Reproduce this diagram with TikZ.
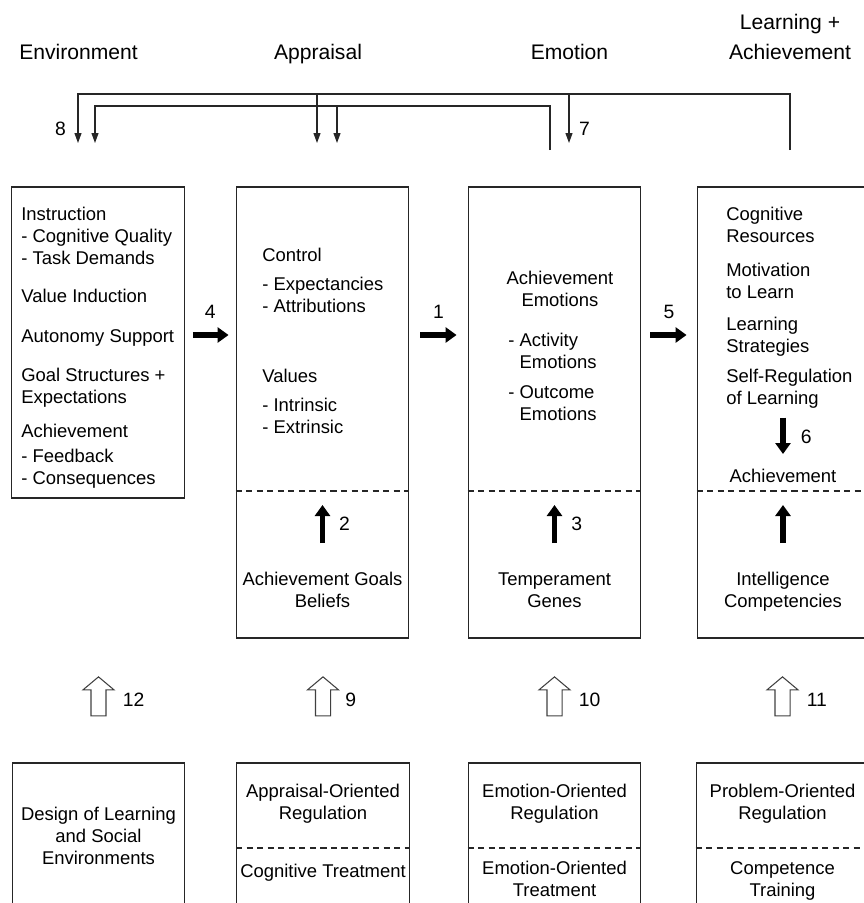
\documentclass[tikz,border=0pt]{standalone}
\usepackage{fontspec}
\setmainfont{Liberation Sans}
\usetikzlibrary{positioning}
\usetikzlibrary{arrows.meta}
\usetikzlibrary{shapes.arrows}

\begin{document}
\begin{tikzpicture}[x=0.02cm, y=-0.02cm,
    every node/.style={inner sep=0pt},
    box/.style={draw=black!85, line width=0.8pt, minimum width=3.45cm},
    txt/.style={font=\fontsize{10.5}{12.5}\selectfont, align=left, anchor=north west},
    ctxt/.style={font=\fontsize{10.5}{12.5}\selectfont, align=center, anchor=north},
    head/.style={font=\fontsize{12}{17}\selectfont, align=center},
    num/.style={font=\fontsize{11}{13}\selectfont},
    split/.style={draw=black!85, line width=0.6pt, dash pattern=on 3.5pt off 2.5pt},
    fb/.style={draw=black!85, line width=0.6pt, -{Triangle[length=0.2cm,width=0.14cm]}},
    bigarrow/.style={line width=0.11cm, -{Triangle[length=0.22cm,width=0.3cm]}},
    hollow/.style={draw=black!75, line width=0.6pt, single arrow, rotate=90,
        inner sep=0.14cm, single arrow head extend=0.16cm,
        single arrow tip angle=100, minimum height=0.78cm}]

\useasboundingbox (0,0) rectangle (864,903);
\clip (0,0) rectangle (864,903);

% column heads
\node[head, anchor=base] (hEnv) at (78.5,59) {Environment};
\node[head, anchor=base] (hApp) at (318,59) {Appraisal};
\node[head, anchor=base] (hEmo) at (569.5,59) {Emotion};
\node[head, anchor=north] (hLearn) at (790,14) {Learning +\\Achievement};

% upper boxes
\node[box, minimum height=6.22cm] (env) at (98,342.5) {};
\node[box, minimum height=9.02cm] (appr) at (322.5,412.5) {};
\node[box, minimum height=9.02cm] (emo) at (554.5,412.5) {};
\node[box, minimum height=9.02cm] (learn) at (783.5,412.5) {};

\node[txt] (envtxt) at (21,207) {Instruction\\- Cognitive Quality\\- Task Demands\\[0.32cm]Value Induction\\[0.36cm]Autonomy Support\\[0.34cm]Goal Structures +\\Expectations\\[0.24cm]Achievement\\[0.06cm]- Feedback\\- Consequences};
\node[txt] (apprtxt) at (262,248) {Control\\[0.14cm]- Expectancies\\- Attributions\\[0.96cm]Values\\[0.14cm]- Intrinsic\\- Extrinsic};
\node[ctxt] (emohead) at (560,271) {Achievement\\Emotions};
\node[txt] (emotxt) at (508,333) {- Activity\\\phantom{- }Emotions\\[0.16cm]- Outcome\\\phantom{- }Emotions};
\node[txt] (learntxt) at (726,207) {Cognitive\\Resources\\[0.24cm]Motivation\\to Learn\\[0.2cm]Learning\\Strategies\\[0.16cm]Self-Regulation\\of Learning};
\node[ctxt] (ach4) at (783,469) {Achievement};

\node[ctxt] (goals) at (322.5,572) {Achievement Goals\\Beliefs};
\node[ctxt] (temper) at (554.5,572) {Temperament\\Genes};
\node[ctxt] (intel) at (783,572) {Intelligence\\Competencies};

\coordinate (split) at (0,491);
\draw[split] (appr.west |- split) -- (appr.east |- split);
\draw[split] (emo.west |- split) -- (emo.east |- split);
\draw[split] (learn.west |- split) -- (learn.east |- split);

% lower boxes
\node[box, minimum height=3.34cm] (design) at (98.5,846.5) {};
\node[box, minimum height=3.34cm] (apprreg) at (323,846.5) {};
\node[box, minimum height=3.34cm] (emoreg) at (554.5,846.5) {};
\node[box, minimum height=3.34cm] (probreg) at (782.5,846.5) {};

\node[ctxt] (designtxt) at (98.5,807) {Design of Learning\\and Social\\Environments};
\node[ctxt] (appregtxt) at (323,784) {Appraisal-Oriented\\Regulation};
\node[ctxt] (cogtxt) at (323,864) {Cognitive Treatment};
\node[ctxt] (emoregtxt) at (554.5,784) {Emotion-Oriented\\Regulation};
\node[ctxt] (emotreattxt) at (554.5,861) {Emotion-Oriented\\Treatment};
\node[ctxt] (probregtxt) at (782.5,784) {Problem-Oriented\\Regulation};
\node[ctxt] (comptxt) at (782.5,861) {Competence\\Training};

\coordinate (split2) at (0,848);
\draw[split] (apprreg.west |- split2) -- (apprreg.east |- split2);
\draw[split] (emoreg.west |- split2) -- (emoreg.east |- split2);
\draw[split] (probreg.west |- split2) -- (probreg.east |- split2);

% black arrows
\coordinate (row) at (0,335);
\draw[bigarrow, shorten <=0.16cm, shorten >=0.14cm] (env.east |- row) -- node[num, above=0.28cm] (n4) {4} (appr.west |- row);
\draw[bigarrow, shorten <=0.22cm, shorten >=0.22cm] (appr.east |- row) -- node[num, above=0.28cm] (n1) {1} (emo.west |- row);
\draw[bigarrow, shorten <=0.18cm, shorten >=0.2cm] (emo.east |- row) -- node[num, above=0.28cm] (n5) {5} (learn.west |- row);
\draw[bigarrow, shorten <=0.18cm, shorten >=0.3cm] (ach4.north |- learntxt.south) -- node[num, pos=0.46, right=0.3cm] (n6) {6} (ach4.north);
\draw[bigarrow, shorten <=0.58cm, shorten >=0.28cm] (goals.north) -- node[num, pos=0.6, right=0.28cm] (n2) {2} (goals.north |- split);
\draw[bigarrow, shorten <=0.58cm, shorten >=0.28cm] (temper.north) -- node[num, pos=0.6, right=0.28cm] (n3) {3} (temper.north |- split);
\draw[bigarrow, shorten <=0.58cm, shorten >=0.28cm] (intel.north) -- (intel.north |- split);

% feedback loops
\coordinate (fbtop) at (0,94);
\coordinate (fbin) at (0,106);
\coordinate (fb8a) at (78,143);
\coordinate (fb8b) at (95,143);
\coordinate (fbappa) at (317,143);
\coordinate (fbappb) at (337,143);
\coordinate (fb7) at (569,143);
\coordinate (fbemo) at (550,150);
\coordinate (fbach) at (790,150);
\draw[fb] (fbach) -- (fbach |- fbtop) -| (fb8a);
\draw[fb] (fbappa |- fbtop) -- (fbappa);
\draw[fb] (fb7 |- fbtop) -- (fb7);
\draw[fb] (fbemo) -- (fbemo |- fbin) -| (fb8b);
\draw[fb] (fbappb |- fbin) -- (fbappb);
\node[num] (n8) at (60.5,129) {8};
\node[num] (n7) at (584.5,129) {7};

% regulation arrows
\coordinate (hrow) at (0,699.5);
\node[hollow] (h12) at (design.north |- hrow) {};
\node[hollow] (h9) at (apprreg.north |- hrow) {};
\node[hollow] (h10) at (emoreg.north |- hrow) {};
\node[hollow] (h11) at (probreg.north |- hrow) {};
\node[num, right=0.48cm of h12.center] (n12) {12};
\node[num, right=0.44cm of h9.center] (n9) {9};
\node[num, right=0.48cm of h10.center] (n10) {10};
\node[num, right=0.48cm of h11.center] (n11) {11};
\end{tikzpicture}
\end{document}
